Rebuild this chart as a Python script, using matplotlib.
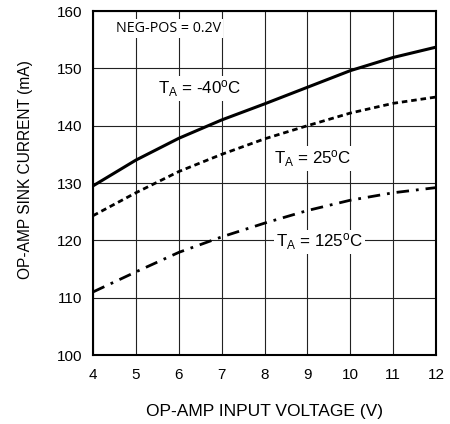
import matplotlib.pyplot as plt

plt.rcParams["font.family"] = ["Liberation Sans", "DejaVu Sans"]
plt.rcParams["mathtext.fontset"] = "custom"
plt.rcParams["mathtext.rm"] = "Liberation Sans"
plt.rcParams["mathtext.it"] = "Liberation Sans"

# Data
voltage = [4, 5, 6, 7, 8, 9, 10, 11, 12]
sink_m40 = [129.5, 134.0, 137.8, 141.0, 143.8, 146.7, 149.6, 151.9, 153.7]
sink_25 = [124.3, 128.3, 132.0, 135.0, 137.7, 140.0, 142.2, 143.9, 145.0]
sink_125 = [111.0, 114.5, 117.9, 120.6, 123.0, 125.2, 127.0, 128.3, 129.2]

x_ticks = [4, 5, 6, 7, 8, 9, 10, 11, 12]
y_ticks = [100, 110, 120, 130, 140, 150, 160]

fig = plt.figure(figsize=(4.5, 4.24), dpi=100)
ax = fig.add_axes([0.2067, 0.1627, 0.7623, 0.8113])

ax.plot(voltage, sink_m40, color="black", lw=2.2, solid_capstyle="butt")
ax.plot(voltage, sink_25, color="black", lw=2.0, dashes=(2.0, 1.4))
ax.plot(voltage, sink_125, color="black", lw=2.0, dashes=(4.5, 2.5, 1.0, 2.5))

ax.set_xlim(4, 12)
ax.set_ylim(100, 160)
ax.set_xticks(x_ticks)
ax.set_yticks(y_ticks)
ax.tick_params(length=0, labelsize=11)
ax.tick_params(axis="x", pad=9)
ax.tick_params(axis="y", pad=8)
ax.grid(True, color="#222222", lw=0.8)
ax.set_axisbelow(True)
for s in ax.spines.values():
    s.set_linewidth(1.5)

ax.set_xlabel("OP-AMP INPUT VOLTAGE (V)", fontsize=12.5, labelpad=16)
ax.set_ylabel("OP-AMP SINK CURRENT (mA)", fontsize=11.2)
ax.yaxis.set_label_coords(-0.175, 0.54)

box = dict(facecolor="white", edgecolor="none", pad=1.5)
ax.text(4.54, 157.0, "NEG-POS = 0.2V", fontsize=10.3, family=["Open Sans", "DejaVu Sans"],
        va="center", ha="left", bbox=box)
lbl = dict(fontsize=12.2, ha="center", va="center", bbox=box)
ax.text(6.49, 146.5, r"T$_{\mathrm{A}}$ = -40$^{\mathrm{o}}$C", **lbl)
ax.text(9.12, 134.3, r"T$_{\mathrm{A}}$ = 25$^{\mathrm{o}}$C", **lbl)
ax.text(9.28, 119.7, r"T$_{\mathrm{A}}$ = 125$^{\mathrm{o}}$C", **lbl)

fig.savefig("out.png", dpi=100)
